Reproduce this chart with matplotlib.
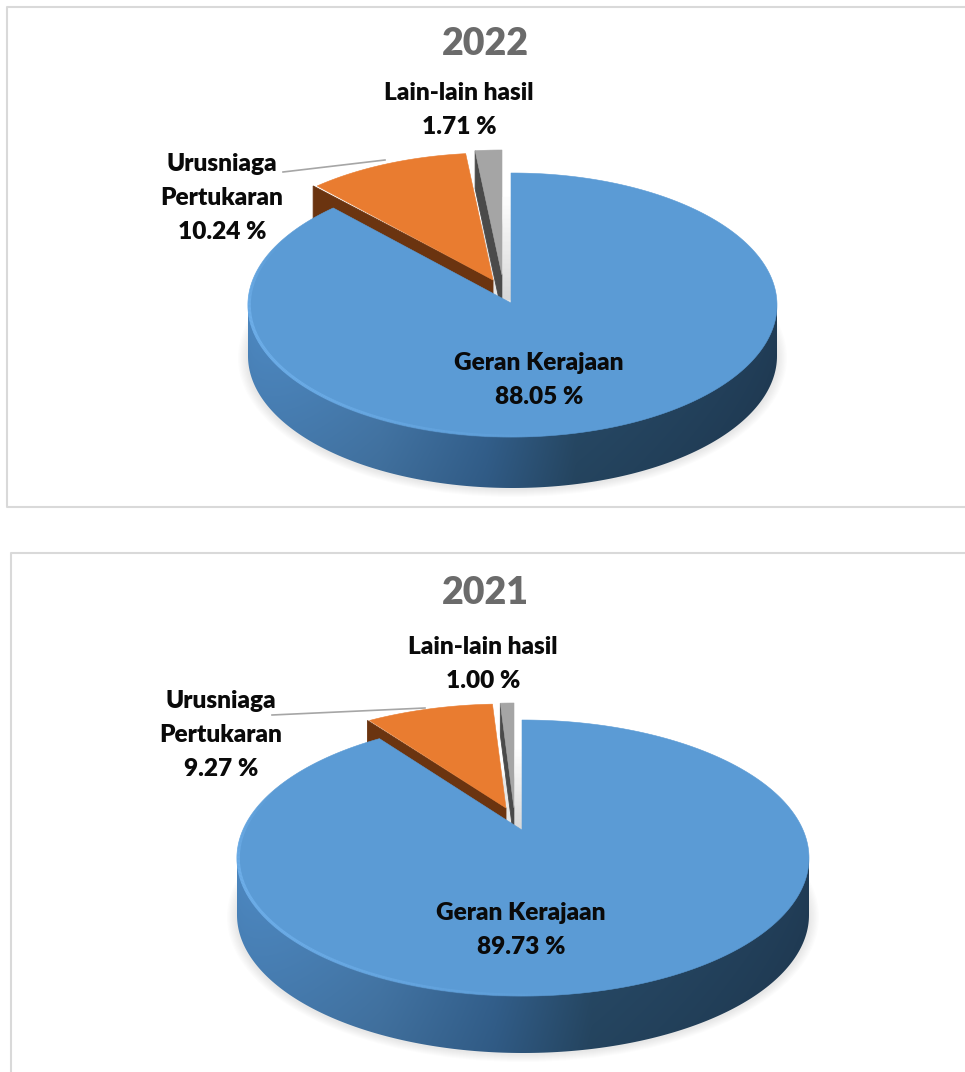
import numpy as np
import matplotlib
matplotlib.use("Agg")
import matplotlib.pyplot as plt
from matplotlib.collections import PolyCollection, LineCollection
from matplotlib.colors import to_rgb
from matplotlib.patches import Ellipse, Polygon

plt.rcParams['font.family'] = ['Lato', 'DejaVu Sans']

# ========= data =========
years = ['2022', '2021']
shares_2022 = [88.05, 10.24, 1.71]
shares_2021 = [89.73, 9.27, 1.00]
labels_2022 = ['Geran Kerajaan\n88.05 %', 'Urusniaga\nPertukaran\n10.24 %', 'Lain-lain hasil\n1.71 %']
labels_2021 = ['Geran Kerajaan\n89.73 %', 'Urusniaga\nPertukaran\n9.27 %', 'Lain-lain hasil\n1.00 %']

TOP_COLORS = ['#5b9bd5', '#e97c30', '#a5a5a5']
CUT_COLORS = ['#1f3a52', '#6b3410', '#4a4a4a']
GRID = '#d9d9d9'
TEXT = '#0a0a0a'

fig = plt.figure(figsize=(9.65, 10.72), dpi=100)
ax = fig.add_axes([0, 0, 1, 1])
ax.set_xlim(0, 965)
ax.set_ylim(1072, 0)
ax.axis('off')


def rim_points(center, apex, rx, ry, a0, a1, n=160):
    # cast rays from the apex, hit the ellipse of the top face
    t = np.radians(np.linspace(a0, a1, n))
    dx, dy = rx * np.sin(t), -ry * np.cos(t)
    ox, oy = (apex[0] - center[0]) / rx, (apex[1] - center[1]) / ry
    ux, uy = dx / rx, dy / ry
    a = ux ** 2 + uy ** 2
    b = 2 * (ox * ux + oy * uy)
    c = ox ** 2 + oy ** 2 - 1
    s = (-b + np.sqrt(b ** 2 - 4 * a * c)) / (2 * a)
    return np.column_stack([apex[0] + s * dx, apex[1] + s * dy])


def draw_side(cx, cy, rx, ry, depth):
    # smooth gradient image clipped to the side of the disc
    gx = np.arange(cx - rx - 1, cx + rx + 1, 1.0)
    gy = np.arange(cy - 2, cy + ry + depth + 2, 1.0)
    X, Y = np.meshgrid(gx, gy)
    u = np.clip((X - (cx - rx)) / (2 * rx), 0, 1)
    rim_y = cy + ry * np.sqrt(np.clip(1 - ((X - cx) / rx) ** 2, 0, 1))
    v = np.clip((Y - rim_y) / depth, 0, 1)
    stops = [0, 0.25, 0.45, 0.62, 1]
    cols = np.array([to_rgb(c) for c in ['#4a83ba', '#41719f', '#315c87', '#254560', '#203b54']])
    rgb = np.dstack([np.interp(u, stops, cols[:, i]) for i in range(3)])
    rgb = np.clip(rgb * (1.03 - 0.05 * v)[..., None], 0, 1)
    img = ax.imshow(rgb, extent=[gx[0], gx[-1], gy[-1], gy[0]], aspect='auto',
                    interpolation='bilinear', zorder=5)
    th = np.linspace(np.pi / 2, 3 * np.pi / 2, 200)
    low = np.column_stack([cx + rx * np.sin(th), cy - ry * np.cos(th) + depth])
    outline = np.vstack([[[cx + rx, cy - 1]], low, [[cx - rx, cy - 1]], [[cx, cy]]])
    clip = Polygon(outline, closed=True, transform=ax.transData)
    img.set_clip_path(clip)
    ax.set_xlim(0, 965)
    ax.set_ylim(1072, 0)


def draw_pie(shares, labels, year, cx, cy, rx, ry, depth, geo, title_y, label_pos, leader):
    ang = np.cumsum([0] + list(shares)) / np.sum(shares) * 360

    # soft shadow under the disc
    for k in range(8):
        ax.add_patch(Ellipse((cx, cy + depth + 2), 2 * rx + 20 - 2.5 * k, 2 * ry + 14 - 2 * k,
                             fc='black', ec='none', alpha=0.012, zorder=1))

    # small exploded wedges first, blue covers their cut faces
    for i in [2, 1]:
        c, apex, cut_d, nudge = geo[i]
        rim = rim_points(c, apex, rx, ry, ang[i], ang[i + 1])
        corner = rim[0]
        cut = [(corner[0] - nudge, corner[1]), apex, (apex[0], apex[1] + cut_d),
               (corner[0] - nudge, corner[1] + cut_d)]
        ax.add_patch(Polygon(cut, closed=True, fc=CUT_COLORS[i], ec=CUT_COLORS[i], lw=0.6,
                             zorder=2 + (2 - i)))
        ax.add_patch(Polygon(np.vstack([rim, apex]), closed=True, fc=TOP_COLORS[i],
                             ec=TOP_COLORS[i], lw=0.4, zorder=2.5 + (2 - i)))

    # pale shadow strip next to the main wedge
    sx0, sx1, sy0, sy1 = geo['strip']
    rows = np.linspace(sy0, sy1, 24)
    strip = [[(sx0, a), (sx1, a), (sx1, b), (sx0, b)] for a, b in zip(rows[:-1], rows[1:])]
    shade = np.linspace(0.99, 0.85, len(strip))
    ax.add_collection(PolyCollection(strip, facecolors=np.column_stack([shade] * 3),
                                     edgecolors=np.column_stack([shade] * 3), linewidths=0.3,
                                     zorder=4))

    draw_side(cx, cy, rx, ry, depth)

    # top face of the main wedge
    c, apex = geo[0][:2]
    rim = rim_points(c, apex, rx, ry, ang[0], ang[1], n=500)
    ax.add_patch(Polygon(np.vstack([rim, apex]), closed=True, fc=TOP_COLORS[0],
                         ec=TOP_COLORS[0], lw=0.4, zorder=6))

    # bevel highlight along the rim, strongest at the left
    pa = np.radians(np.linspace(130, 300, 300))
    px = cx + (rx - 1.2) * np.sin(pa)
    py = cy - (ry - 0.8) * np.cos(pa)
    pts = np.column_stack([px, py])
    segs = np.stack([pts[:-1], pts[1:]], axis=1)
    u = (px[:-1] - (cx - rx)) / (2 * rx)
    fade = np.clip((300 - np.degrees(pa[:-1])) / 35, 0, 1)
    alpha = np.clip(1 - u / 0.6, 0, 1) * 0.75 * fade
    rgba = np.column_stack([np.tile(to_rgb('#74b5f0'), (len(u), 1)), alpha])
    ax.add_collection(LineCollection(segs, colors=rgba, linewidths=2.4, zorder=7))

    ax.plot(leader[0], leader[1], color='#a6a6a6', lw=1.2, zorder=3)
    ax.text(geo['title_x'], title_y, year, fontsize=27, fontweight=800, color='#6b6b6b',
            ha='center', va='center', zorder=9)
    for text, (lx, ly) in zip(labels, label_pos):
        ax.text(lx, ly, text, fontsize=17.6, fontweight=800, color=TEXT, ha='center',
                va='center', linespacing=1.68, zorder=9)


# panel frames
ax.plot([965, 7, 7, 965], [7, 7, 507, 507], color=GRID, lw=1.5, zorder=0)
ax.plot([11, 11, 965], [1072, 553, 553], color=GRID, lw=1.5, zorder=0)

draw_pie(shares_2022, labels_2022, years[0], 512.5, 305, 264.5, 132, 51,
         {0: ((512.5, 305), (511, 303)),
          1: ((492, 285), (493, 280), 34, 4),
          2: ((502, 282), (502, 275), 38, 0),
          'strip': (503, 512.5, 197, 300), 'title_x': 485},
         44, [(539, 380), (222, 198), (459, 110)],
         ([283, 385], [172, 160]))

draw_pie(shares_2021, labels_2021, years[1], 523, 858, 286, 138, 57,
         {0: ((523, 858), (522, 830)),
          1: ((505, 842), (506, 808), 28, 2),
          2: ((514, 841), (514, 808), 32, 0),
          'strip': (515, 522, 750, 830), 'title_x': 485},
         593, [(521, 930), (221, 735), (483, 664)],
         ([272, 425], [715, 708]))

fig.savefig("out.png", dpi=100)
